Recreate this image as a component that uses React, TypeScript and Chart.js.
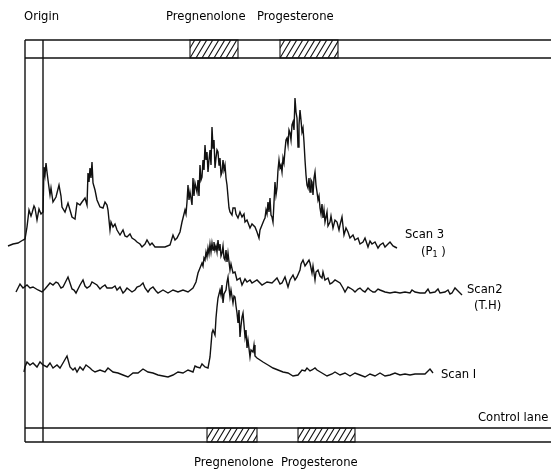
import { useEffect, useRef } from "react";
import { Chart, registerables } from "chart.js";
Chart.register(...registerables);

// Distance along the strip (x) and recorder pen position measured down the sheet (y)
const scan3: [number, number][] = [
  [8,246],[13,244],[18,243],[23,240],[25,239],[27,227],[29,210],[31,216],[32,213],[34,206],[35,208],[37,220],[39,209],[41,214],[43,212],
  [44,167],[45,175],[46,163],[47,172],[48,180],[50,195],[51,188],[53,202],[56,197],[59,185],[61,196],[62,207],[65,212],[68,203],[70,210],[72,217],
  [75,219],[77,203],[80,205],[82,202],[85,198],[87,205],[88,173],[89,182],[90,168],[91,178],[92,162],[93,183],[95,190],[97,200],[100,207],[103,208],
  [105,202],[107,205],[108,210],[110,230],[111,222],[113,227],[115,224],[117,230],[120,235],[123,230],[125,236],[127,237],[130,234],[132,238],[135,240],[137,242],[140,244],[142,247],
  [145,244],[147,240],[150,245],[152,243],[155,247],[160,247],[165,247],[170,245],[173,235],[175,240],[177,238],
  [180,232],[182,222],[183,218],[185,210],[186,214],[187,202],[188,185],[189,200],[190,192],[192,205],[193,178],[194,196],[195,183],[197,192],
  [198,180],[199,196],[200,165],[201,180],[202,177],[203,160],[204,170],[205,145],[206,160],[207,152],[208,172],[209,160],[210,150],[211,165],
  [212,127],[213,148],[214,140],[215,168],[216,158],[217,150],[218,152],[219,165],[220,158],[221,175],[222,172],[223,160],[224,170],[225,165],
  [226,178],[227,185],[229,208],[230,212],[232,215],[233,208],[235,208],[236,214],[238,218],[240,212],[242,217],[244,214],[245,222],[247,220],[250,228],
  [252,224],[255,227],[257,232],[259,238],[260,230],[262,225],[264,220],[265,218],[266,210],[267,214],[268,202],[269,212],[270,198],[271,215],[272,217],[273,222],
  [275,182],[276,195],[277,188],[278,170],[279,160],[280,168],[281,165],[282,172],[283,158],[284,163],[285,150],[286,140],[287,138],[288,145],
  [289,130],[290,133],[291,140],[292,125],[293,122],[294,130],[295,98],[296,112],[297,118],[298,147],[299,125],[300,110],[301,120],[302,132],
  [303,128],[304,142],[305,160],[306,175],[307,185],[308,188],[309,178],[310,192],[311,180],[312,182],[313,195],[314,178],[315,172],[316,185],
  [317,192],[318,200],[319,196],[320,208],[321,214],[322,204],[323,218],[324,210],[325,222],[327,212],[328,226],[330,222],[331,216],[333,228],
  [335,220],[337,222],[339,230],[340,225],[342,217],[344,235],[346,228],[348,232],[350,238],[353,235],[355,240],[358,238],[360,244],[363,242],[365,238],[368,247],
  [370,241],[372,244],[375,242],[378,248],[380,245],[383,243],[385,247],[388,244],[390,242],[393,246],[395,247],[397,248],
];

const scan2: [number, number][] = [
  [16,292],[20,284],[23,288],[27,285],[30,288],[33,287],[38,290],[42,292],[45,289],[50,283],[53,285],[56,282],[58,283],
  [61,288],[63,287],[66,281],[68,277],[72,289],[74,290],[76,293],[80,285],[83,280],[85,286],[87,288],[90,286],[92,282],[97,285],[100,289],[102,287],[105,285],[107,288],[112,288],
  [115,286],[117,290],[120,287],[123,293],[125,291],[127,288],[132,292],[135,290],[137,287],[140,286],[143,283],[145,288],[148,292],[150,289],[153,287],[156,291],[158,293],[163,290],
  [168,293],[173,290],[178,292],[183,290],[188,292],[193,288],[196,282],[198,273],[200,268],[202,263],[203,266],[204,258],[205,260],[206,252],
  [207,257],[208,248],[209,254],[210,244],[211,252],[212,243],[213,250],[214,242],[215,250],[216,246],[217,252],[218,240],[219,250],[220,244],
  [221,256],[222,253],[223,246],[224,258],[225,260],[226,250],[227,262],[228,253],[230,270],[231,264],[233,273],[235,272],[237,280],[240,278],[242,285],[245,279],[247,282],[250,280],[252,283],
  [257,280],[262,285],[267,282],[272,283],[275,280],[277,278],[280,284],[282,283],[285,277],[288,287],[290,280],[293,275],[295,280],[297,277],[300,270],
  [301,264],[303,260],[305,266],[307,263],[309,260],[310,263],[312,273],[313,266],[315,280],[316,272],[318,270],[320,276],[322,278],[323,272],[325,280],[328,278],[330,284],[332,283],[335,280],
  [340,283],[343,288],[345,292],[348,287],[350,288],[353,290],[355,292],[358,289],[360,288],[363,291],[365,292],[368,288],[370,290],[373,292],[375,292],[378,289],[380,290],[385,292],[390,293],
  [395,292],[400,293],[405,292],[410,293],[412,290],[415,292],[420,293],[425,293],[428,289],[430,293],[435,292],[438,289],[440,293],[445,292],
  [448,290],[450,294],[452,293],[455,288],[457,290],[462,295],
];

const scan1: [number, number][] = [
  [24,372],[25,367],[27,362],[30,365],[33,363],[37,367],[40,362],[43,365],[47,367],[50,363],[53,368],[57,365],
  [60,368],[63,363],[67,356],[70,367],[73,370],[75,368],[77,372],[80,367],[83,370],[86,365],[90,368],[92,370],[95,372],[100,370],
  [105,372],[108,368],[113,372],[118,373],[123,375],[128,377],[133,373],[138,373],[143,369],[148,372],[153,373],
  [158,375],[163,376],[168,377],[173,375],[178,372],[183,373],[188,370],[193,372],[195,366],[197,367],[200,368],[202,364],[205,367],
  [208,368],[210,357],[211,345],[212,333],[213,330],[215,335],[216,318],[217,307],[218,298],[220,290],[221,295],[222,285],[223,303],[224,294],[226,290],[227,282],[228,277],
  [229,288],[230,297],[231,290],[233,303],[234,296],[235,297],[236,306],[237,313],[238,323],[239,310],[240,337],[241,326],[242,317],[243,313],[244,325],[245,337],[246,330],
  [247,348],[248,340],[250,357],[251,350],[253,352],[254,345],[255,356],[257,358],[260,360],[263,362],[268,365],[273,368],[278,370],[283,372],[288,373],[293,376],[298,375],
  [302,370],[305,371],[307,368],[310,371],[312,370],[315,368],[317,370],[322,373],[327,376],[332,374],[335,372],[340,375],[345,373],[350,376],
  [355,373],[360,375],[365,377],[370,374],[375,376],[380,373],[385,376],[390,375],[395,373],[400,375],[405,374],
  [410,375],[415,374],[420,374],[425,374],[430,369],[433,373],
];

// Standard spots (start, end along the strip)
const standardNames = ["Pregnenolone", "Progesterone"];
const sampleStrip: [number, number][] = [[190, 238], [280, 338]];
const controlStrip: [number, number][] = [[207, 257], [298, 355]];
const originLine = [25, 43];

const FAMILY = '"DejaVu Sans", "Liberation Sans", Arial, sans-serif';
const FONT = "11.6px " + FAMILY;

const decorPlugin = {
  id: "decor",
  afterDatasetsDraw(chart: any) {
    const { ctx } = chart;
    const sx = chart.scales.x;
    const sy = chart.scales.y;
    const X = (v: number) => sx.getPixelForValue(v);
    const Y = (v: number) => sy.getPixelForValue(v);
    ctx.save();
    ctx.strokeStyle = "#111";
    ctx.fillStyle = "#000";
    ctx.lineWidth = 1.4;

    const stripTop = [40, 58];
    const stripBot = [428, 442];
    const right = 552;

    const hline = (y: number, x0: number, x1: number) => {
      ctx.beginPath();
      ctx.moveTo(X(x0), Y(y));
      ctx.lineTo(X(x1), Y(y));
      ctx.stroke();
    };
    const vline = (x: number, y0: number, y1: number) => {
      ctx.beginPath();
      ctx.moveTo(X(x), Y(y0));
      ctx.lineTo(X(x), Y(y1));
      ctx.stroke();
    };
    [stripTop, stripBot].forEach((s) => {
      hline(s[0], originLine[0], right);
      hline(s[1], originLine[0], right);
    });
    originLine.forEach((x) => vline(x, stripTop[0], stripBot[1]));

    const hatch = (x0: number, x1: number, y0: number, y1: number) => {
      const px0 = X(x0), px1 = X(x1), py0 = Y(y0), py1 = Y(y1);
      ctx.save();
      ctx.lineWidth = 1.1;
      ctx.strokeRect(px0, py0, px1 - px0, py1 - py0);
      ctx.beginPath();
      ctx.rect(px0, py0, px1 - px0, py1 - py0);
      ctx.clip();
      const h = py1 - py0;
      ctx.beginPath();
      for (let x = px0 - h; x < px1 + h; x += 6) {
        ctx.moveTo(x, py1);
        ctx.lineTo(x + h * 0.6, py0);
      }
      ctx.stroke();
      ctx.restore();
    };
    sampleStrip.forEach(([a, b]) => hatch(a, b, stripTop[0], stripTop[1]));
    controlStrip.forEach(([a, b]) => hatch(a, b, stripBot[0], stripBot[1]));

    ctx.font = FONT;
    ctx.textBaseline = "middle";
    ctx.textAlign = "left";
    const t = (s: string, x: number, y: number) => ctx.fillText(s, X(x), Y(y));
    t("Origin", 24, 17);
    t(standardNames[0], 166, 17);
    t(standardNames[1], 257, 17);
    t(standardNames[0], 194, 463);
    t(standardNames[1], 281, 463);
    t("Scan 3", 405, 235);
    // (P₁)
    t("(P", 421, 252);
    const wP = ctx.measureText("(P").width;
    ctx.font = "8px " + FAMILY;
    ctx.fillText("1", X(421) + wP, Y(255));
    const w1 = ctx.measureText("1").width;
    ctx.font = FONT;
    ctx.fillText(" )", X(421) + wP + w1, Y(252));
    t("Scan2", 467, 290);
    t("(T.H)", 474, 306);
    t("Scan I", 441, 375);
    t("Control lane", 478, 418);
    ctx.restore();
  },
};

export default function App() {
  const ref = useRef<HTMLCanvasElement | null>(null);
  useEffect(() => {
    document.body.style.margin = "0";
    const canvas = ref.current;
    if (!canvas) return;
    const mk = (d: [number, number][]) => d.map(([x, y]) => ({ x, y }));
    const ds = (d: [number, number][]) => ({
      data: mk(d),
      borderColor: "#111",
      borderWidth: 1.4,
      pointRadius: 0,
      tension: 0,
      fill: false,
    });
    const chart = new Chart(canvas, {
      type: "line",
      data: { datasets: [ds(scan3), ds(scan2), ds(scan1)] },
      options: {
        responsive: false,
        maintainAspectRatio: false,
        animation: false,
        layout: { padding: 0 },
        plugins: { legend: { display: false }, tooltip: { enabled: false }, title: { display: false } },
        scales: {
          x: { type: "linear", min: 0, max: 551, display: false },
          y: { type: "linear", min: 0, max: 471, reverse: true, display: false },
        },
      },
      plugins: [decorPlugin],
    });
    return () => chart.destroy();
  }, []);
  return (
    <div style={{ width: 551, height: 471, background: "#fff" }}>
      <canvas ref={ref} width={551} height={471} style={{ display: "block" }} />
    </div>
  );
}
